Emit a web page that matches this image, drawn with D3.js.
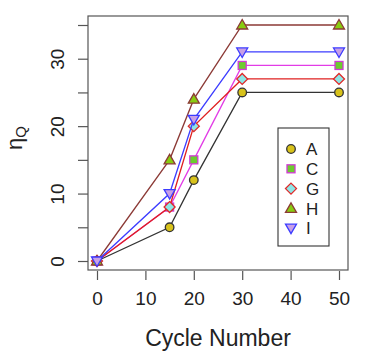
<!DOCTYPE html>
<html>
<head>
<meta charset="utf-8">
<script src="https://cdn.jsdelivr.net/npm/d3@7"></script>
<style>
  body { margin: 0; background: #fff; }
  text { font-family: "Liberation Sans", Arial, sans-serif; fill: #222; }
</style>
</head>
<body>
<svg id="chart"></svg>
<script>
// data
const cycles = [0, 15, 20, 30, 50];
const seriesNames = ["A", "C", "G", "H", "I"];
const valuesA = [0, 5, 12, 25, 25];
const valuesC = [0, 8, 15, 29, 29];
const valuesG = [0, 8, 20, 27, 27];
const valuesH = [0, 15, 24, 35, 35];
const valuesI = [0, 10, 21, 31, 31];
const xTicks = [0, 10, 20, 30, 40, 50];
const yTicks = [0, 5, 10, 15, 20, 25, 30, 35];
const yLabels = [0, 10, 20, 30];

const styles = {
    A: { line: "#333333", fill: "#d8c21a", stroke: "#333333", shape: "circle" },
    C: { line: "#e23ce6", fill: "#6ccc2e", stroke: "#d23ad6", shape: "square" },
    G: { line: "#e02020", fill: "#8ee6e6", stroke: "#e02828", shape: "diamond" },
    H: { line: "#8c3a36", fill: "#88cc10", stroke: "#8c3a36", shape: "up" },
    I: { line: "#3c3cff", fill: "#c8a0e6", stroke: "#3c3cff", shape: "down" }
};

const allValues = { A: valuesA, C: valuesC, G: valuesG, H: valuesH, I: valuesI };

const width = 371, height = 356;
const box = { left: 88, top: 16, right: 348, bottom: 270 };

const svg = d3.select("#chart")
    .attr("width", width)
    .attr("height", height);

const x = d3.scaleLinear().domain([0, 50]).range([97, 339]);
const y = d3.scaleLinear().domain([0, 35]).range([261, 25]);

// plot box
svg.append("rect")
    .attr("x", box.left)
    .attr("y", box.top)
    .attr("width", box.right - box.left)
    .attr("height", box.bottom - box.top)
    .attr("fill", "none")
    .attr("stroke", "#555")
    .attr("stroke-width", 1.2);

// axes
const xAxis = d3.axisBottom(x).tickValues(xTicks).tickSize(9).tickPadding(12);
svg.append("g")
    .attr("transform", `translate(0, ${box.bottom + 1})`)
    .call(xAxis)
    .call(g => g.select(".domain").remove())
    .call(g => g.selectAll("line").attr("stroke", "#555").attr("stroke-width", 1.2))
    .call(g => g.selectAll("text").attr("font-size", 19).attr("fill", "#222")
        .attr("font-family", "Liberation Sans, Arial, sans-serif"));

const yAxis = d3.axisLeft(y).tickValues(yTicks).tickSize(10)
    .tickFormat(d => yLabels.includes(d) ? d : "");
svg.append("g")
    .attr("transform", `translate(${box.left}, 0)`)
    .call(yAxis)
    .call(g => g.select(".domain").remove())
    .call(g => g.selectAll("line").attr("stroke", "#555").attr("stroke-width", 1.2))
    .call(g => g.selectAll("text")
        .attr("font-size", 19)
        .attr("fill", "#222")
        .attr("font-family", "Liberation Sans, Arial, sans-serif")
        .attr("x", 0)
        .attr("y", 0)
        .attr("text-anchor", "middle")
        .attr("transform", "translate(-30.5, 0) rotate(-90)")
        .attr("dy", "0.35em"));

// axis titles
svg.append("text")
    .attr("x", 218)
    .attr("y", 346)
    .attr("text-anchor", "middle")
    .attr("font-size", 23)
    .text("Cycle Number");

const yTitle = svg.append("text")
    .attr("transform", "translate(22, 138) rotate(-90)")
    .attr("text-anchor", "middle")
    .attr("font-size", 22);
yTitle.append("tspan").text("η");
yTitle.append("tspan").attr("font-size", 15).attr("dy", 4).text("Q");

// markers
function drawMarker(g, shape, cx, cy, st) {
    let m;
    if (shape === "circle") {
        m = g.append("circle").attr("cx", cx).attr("cy", cy).attr("r", 4.3);
    } else if (shape === "square") {
        m = g.append("rect").attr("x", cx - 4).attr("y", cy - 4).attr("width", 8).attr("height", 8);
    } else if (shape === "diamond") {
        m = g.append("path").attr("d", `M${cx},${cy - 5.5}L${cx + 5.5},${cy}L${cx},${cy + 5.5}L${cx - 5.5},${cy}Z`);
    } else if (shape === "up") {
        m = g.append("path").attr("d", `M${cx},${cy - 5.5}L${cx + 5.5},${cy + 4}L${cx - 5.5},${cy + 4}Z`);
    } else {
        m = g.append("path").attr("d", `M${cx},${cy + 5.5}L${cx + 5.5},${cy - 4}L${cx - 5.5},${cy - 4}Z`);
    }
    m.attr("fill", st.fill).attr("stroke", st.stroke).attr("stroke-width", 1.3);
}

const line = d3.line().x(d => x(d[0])).y(d => y(d[1]));

seriesNames.forEach(name => {
    const st = styles[name];
    const pts = cycles.map((c, i) => [c, allValues[name][i]]);
    const g = svg.append("g");
    g.append("path")
        .attr("d", line(pts))
        .attr("fill", "none")
        .attr("stroke", st.line)
        .attr("stroke-width", 1.3);
    pts.forEach(p => drawMarker(g, st.shape, x(p[0]), y(p[1]), st));
});

// legend
const legend = svg.append("g");
legend.append("rect")
    .attr("x", 278).attr("y", 128)
    .attr("width", 51).attr("height", 118)
    .attr("fill", "#fff")
    .attr("stroke", "#333")
    .attr("stroke-width", 1.1);

seriesNames.forEach((name, i) => {
    const ly = 149 + i * 19.8;
    drawMarker(legend, styles[name].shape, 291, ly, styles[name]);
    legend.append("text")
        .attr("x", 306)
        .attr("y", ly)
        .attr("dy", "0.36em")
        .attr("font-size", 17)
        .text(name);
});
</script>
</body>
</html>
